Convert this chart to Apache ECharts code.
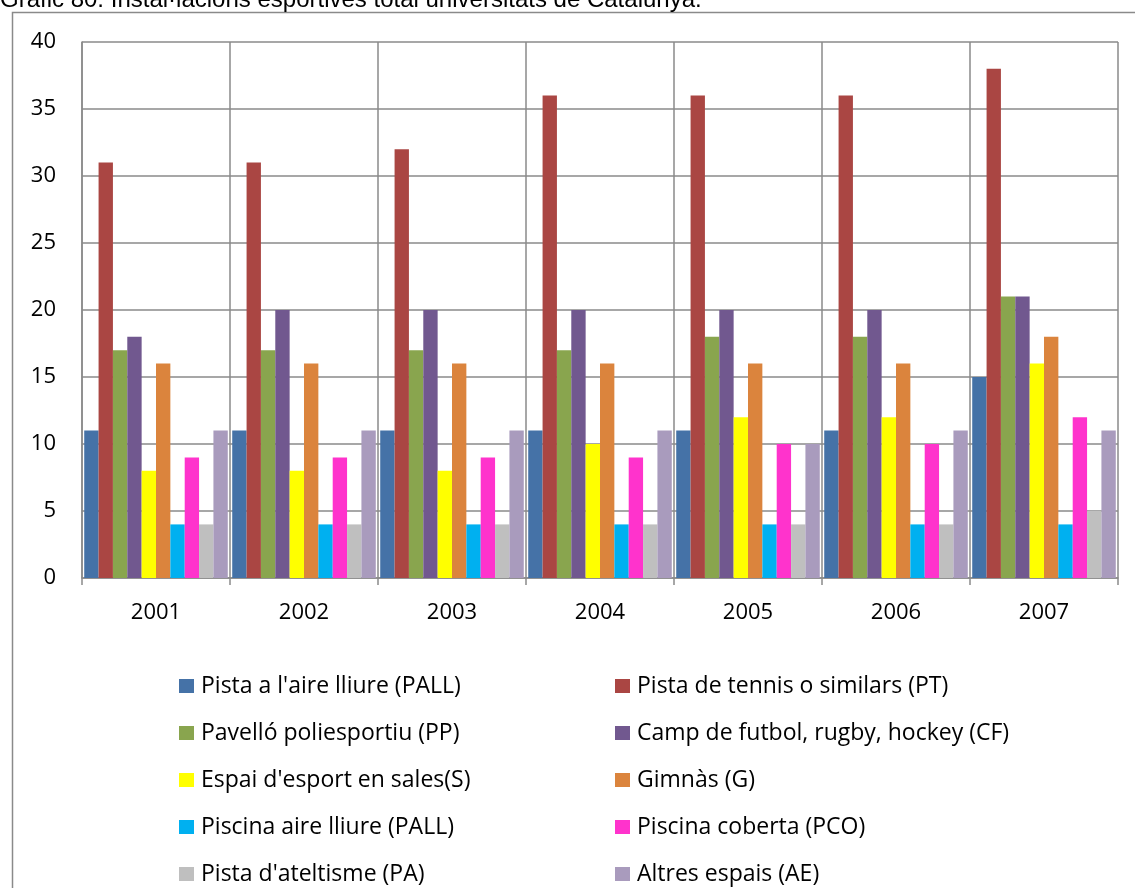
<!DOCTYPE html>
<html><head><meta charset="utf-8">
<script src="https://cdn.jsdelivr.net/npm/echarts@6/dist/echarts.min.js"></script>
<style>html,body{margin:0;padding:0;background:#fff}#c{width:1135px;height:888px}</style>
</head><body><div id="c"></div>
<script>
const titleText = "Gràfic 80. Instal·lacions esportives total universitats de Catalunya.";
const years = ["2001","2002","2003","2004","2005","2006","2007"];
const yTicks = { min: 0, max: 40, interval: 5 };
const seriesNames = [
  "Pista a l'aire lliure (PALL)",
  "Pista de tennis o similars (PT)",
  "Pavelló poliesportiu (PP)",
  "Camp de futbol, rugby, hockey (CF)",
  "Espai d'esport en sales(S)",
  "Gimnàs (G)",
  "Piscina aire lliure (PALL)",
  "Piscina coberta (PCO)",
  "Pista d'ateltisme (PA)",
  "Altres espais (AE)"
];
const pall = [11,11,11,11,11,11,15];
const pt   = [31,31,32,36,36,36,38];
const pp   = [17,17,17,17,18,18,21];
const cf   = [18,20,20,20,20,20,21];
const s    = [8,8,8,10,12,12,16];
const g    = [16,16,16,16,16,16,18];
const pis  = [4,4,4,4,4,4,4];
const pco  = [9,9,9,9,10,10,12];
const pa   = [4,4,4,4,4,4,5];
const ae   = [11,11,11,11,10,11,11];
const allValues = [pall, pt, pp, cf, s, g, pis, pco, pa, ae];
const colors = ["#4572A7","#AA4643","#89A54E","#71588F","#FFFF00","#DB843D","#00B0F0","#FF33CC","#BFBFBF","#A99BBD"];

const gridColor = "#8a8a8a";
const chart = echarts.init(document.getElementById('c'));
const legendText = { fontFamily: "Open Sans", fontSize: 23, color: "#000", lineHeight: 24, padding: [0,0,0,2] };
const legendCommon = { orient: 'vertical', top: 674, height: 214, padding: 0, itemWidth: 15, itemHeight: 14, itemGap: 23, icon: 'rect', textStyle: legendText };
chart.setOption({
  animation: false,
  backgroundColor: "#fff",
  graphic: [
    { type: 'rect', shape: { x: 12.5, y: 12.5, width: 1140, height: 900 }, style: { fill: null, stroke: gridColor, lineWidth: 1.5 }, z: -1 },
    { type: 'text', left: 0, top: -12, style: { text: titleText, fontFamily: "Liberation Sans", fontSize: 24, fill: "#000" } }
  ],
  grid: { left: 82, right: 17, top: 42, bottom: 310, containLabel: false },
  legend: [
    Object.assign({ left: 179, data: seriesNames.filter((_, i) => i % 2 === 0) }, legendCommon),
    Object.assign({ left: 615, data: seriesNames.filter((_, i) => i % 2 === 1) }, legendCommon)
  ],
  xAxis: {
    type: 'category', data: years,
    axisLine: { lineStyle: { color: gridColor, width: 1.5 } },
    axisTick: { show: true, length: 7, lineStyle: { color: gridColor, width: 1.5 } },
    splitLine: { show: true, lineStyle: { color: gridColor, width: 1.5 } },
    axisLabel: { fontFamily: "Open Sans", fontSize: 22, color: "#000", margin: 24 }
  },
  yAxis: {
    type: 'value', min: yTicks.min, max: yTicks.max, interval: yTicks.interval,
    axisLine: { show: true, lineStyle: { color: gridColor, width: 1.5 } },
    axisTick: { show: false },
    splitLine: { show: true, lineStyle: { color: gridColor, width: 1.5 } },
    axisLabel: { fontFamily: "Open Sans", fontSize: 22, color: "#000", margin: 26 }
  },
  series: seriesNames.map((n, i) => ({
    name: n, type: 'bar', data: allValues[i],
    barGap: '0%', barCategoryGap: '3%',
    itemStyle: { color: colors[i] }
  }))
});
</script></body></html>
